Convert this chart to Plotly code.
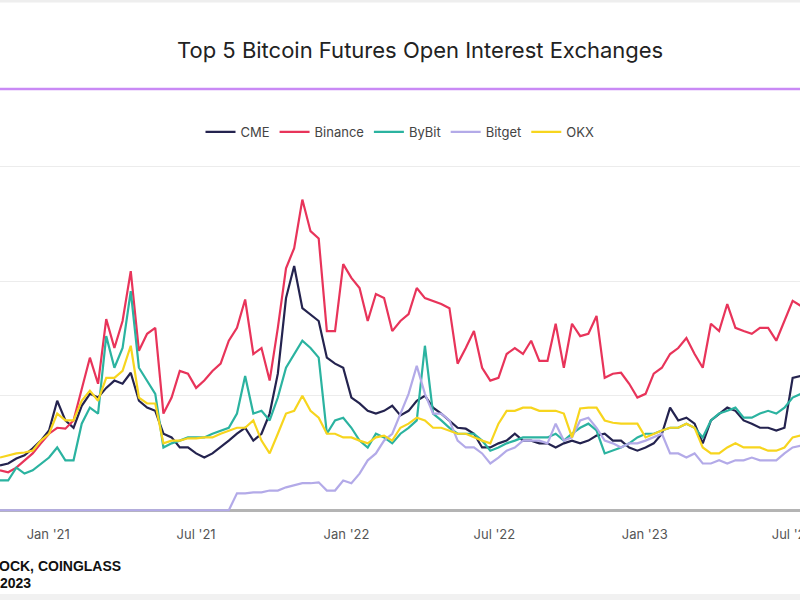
import pandas as pd
import plotly.graph_objects as go

# ---- data (open interest, $ billions, 10-day samples from 2020-11-03) ----
start_date = "2020-11-03"
step_days = 10

cme = [0.98, 1.02, 1.13, 1.20, 1.35, 1.52, 1.74, 2.39, 1.96, 1.80,
       2.28, 2.54, 2.46, 2.67, 2.83, 2.76, 3.00, 2.39, 2.24, 2.17,
       1.67, 1.59, 1.37, 1.37, 1.24, 1.15, 1.24, 1.37, 1.52, 1.67,
       1.80, 1.52, 1.67, 2.11, 2.98, 4.63, 5.33, 4.41, 4.28, 4.13,
       3.33, 3.20, 3.11, 2.46, 2.33, 2.17, 2.11, 2.17, 2.28, 2.07,
       2.17, 2.39, 2.50, 2.24, 2.11, 1.96, 1.80, 1.78, 1.67, 1.37,
       1.37, 1.46, 1.52, 1.67, 1.52, 1.52, 1.46, 1.46, 1.37, 1.46,
       1.52, 1.46, 1.52, 1.63, 1.67, 1.52, 1.52, 1.37, 1.30, 1.37,
       1.46, 1.67, 2.24, 1.96, 2.02, 1.89, 1.46, 1.96, 2.11, 2.24,
       2.17, 1.96, 1.89, 1.80, 1.80, 1.74, 1.80, 2.89, 2.93]

binance = [0.87, 0.83, 0.93, 1.09, 1.24, 1.46, 1.67, 1.80, 1.78, 1.96,
           2.67, 3.33, 2.76, 4.17, 3.54, 4.13, 5.22, 3.48, 3.85, 3.98,
           2.11, 2.46, 3.04, 2.98, 2.67, 2.83, 3.04, 3.20, 3.70, 3.98,
           4.60, 3.41, 3.54, 2.83, 3.98, 5.28, 5.72, 6.78, 6.09, 5.93,
           3.91, 3.91, 5.37, 5.07, 4.85, 4.13, 4.72, 4.63, 3.91, 4.13,
           4.28, 4.85, 4.63, 4.57, 4.50, 4.41, 3.20, 3.54, 3.91, 3.11,
           2.83, 2.89, 3.41, 3.54, 3.41, 3.70, 3.26, 3.26, 4.07, 3.11,
           4.07, 3.80, 3.85, 4.24, 2.89, 2.98, 3.00, 2.76, 2.46, 2.54,
           2.98, 3.11, 3.41, 3.54, 3.76, 3.41, 3.11, 4.07, 3.91, 4.50,
           3.98, 3.91, 3.85, 3.98, 3.98, 3.70, 4.13, 4.57, 4.46]

bybit = [0.65, 0.65, 0.93, 0.80, 0.87, 1.02, 1.15, 1.37, 1.09, 1.09,
         1.89, 2.24, 2.11, 3.80, 3.11, 3.54, 4.78, 3.11, 2.83, 2.54,
         1.37, 1.46, 1.52, 1.59, 1.59, 1.59, 1.67, 1.74, 1.80, 2.11,
         2.93, 2.11, 2.17, 1.96, 2.46, 3.11, 3.41, 3.70, 3.54, 3.33,
         1.67, 1.96, 2.02, 1.80, 1.52, 1.37, 1.67, 1.59, 1.46, 1.67,
         1.80, 1.96, 3.59, 2.11, 1.96, 1.80, 1.67, 1.67, 1.67, 1.52,
         1.30, 1.37, 1.46, 1.52, 1.59, 1.59, 1.59, 1.59, 1.67, 1.52,
         1.67, 1.80, 1.89, 1.74, 1.24, 1.30, 1.37, 1.46, 1.59, 1.67,
         1.67, 1.74, 1.80, 1.80, 1.89, 1.80, 1.59, 1.96, 2.11, 2.17,
         2.24, 2.02, 2.02, 2.11, 2.17, 2.11, 2.24, 2.46, 2.54]

bitget = [0.0] * 29 + [
          0.37, 0.37, 0.39, 0.39, 0.43, 0.43, 0.50, 0.54, 0.59, 0.59,
          0.61, 0.43, 0.43, 0.65, 0.59, 0.80, 1.09, 1.24, 1.52, 1.67,
          2.11, 2.54, 3.15, 2.54, 2.11, 2.11, 1.96, 1.52, 1.37, 1.37,
          1.24, 1.02, 1.15, 1.30, 1.37, 1.52, 1.52, 1.52, 1.46, 1.89,
          1.52, 1.59, 1.96, 2.02, 1.80, 1.52, 1.46, 1.37, 1.46, 1.46,
          1.52, 1.59, 1.67, 1.24, 1.24, 1.15, 1.24, 1.02, 1.02, 1.09,
          1.02, 1.09, 1.09, 1.15, 1.09, 1.09, 1.09, 1.24, 1.37, 1.41]

okx = [1.15, 1.20, 1.24, 1.26, 1.30, 1.52, 1.67, 2.11, 1.96, 1.96,
       2.39, 2.61, 2.39, 2.89, 2.89, 3.04, 3.59, 2.46, 2.33, 2.33,
       1.46, 1.52, 1.52, 1.57, 1.57, 1.59, 1.59, 1.67, 1.74, 1.80,
       1.80, 1.96, 1.52, 1.24, 1.67, 2.11, 2.17, 2.50, 2.17, 2.02,
       1.67, 1.67, 1.59, 1.59, 1.52, 1.46, 1.59, 1.63, 1.52, 1.80,
       1.89, 2.02, 1.96, 1.80, 1.80, 1.74, 1.67, 1.67, 1.59, 1.52,
       1.46, 1.89, 2.17, 2.17, 2.24, 2.24, 2.17, 2.17, 2.17, 2.11,
       1.59, 2.22, 2.24, 2.24, 1.96, 1.91, 1.89, 1.89, 1.89, 1.59,
       1.67, 1.74, 1.80, 1.80, 1.89, 1.80, 1.37, 1.24, 1.24, 1.37,
       1.46, 1.37, 1.37, 1.37, 1.30, 1.30, 1.37, 1.59, 1.63]

tick_dates = ["2021-01-01", "2021-07-01", "2022-01-01", "2022-07-01", "2023-01-01", "2023-07-01"]
tick_labels = ["Jan '21", "Jul '21", "Jan '22", "Jul '22", "Jan '23", "Jul '23"]

title_text = "Top 5 Bitcoin Futures Open Interest Exchanges"
source_line1 = "OCK, COINGLASS"
source_line2 = "2023"

dates = pd.date_range(start_date, periods=len(cme), freq=f"{step_days}D")

series = [
    ("CME", cme, "#24234f"),
    ("Binance", binance, "#e8345a"),
    ("ByBit", bybit, "#2bb3a0"),
    ("Bitget", bitget, "#b3aae8"),
    ("OKX", okx, "#f7d51e"),
]

fig = go.Figure()
for name, vals, color in series:
    fig.add_trace(go.Scatter(
        x=dates, y=vals, name=name, mode="lines",
        line=dict(color=color, width=2.2),
    ))

T, B = 162, 87
H_PLOT = 600 - T - B

fig.update_layout(
    width=800, height=600,
    margin=dict(l=0, r=0, t=T, b=B, autoexpand=False),
    paper_bgcolor="white", plot_bgcolor="white",
    showlegend=True,
    legend=dict(orientation="h", x=0.5, xanchor="center",
                y=1 + 30 / H_PLOT, yanchor="middle",
                font=dict(family="Inter, Lato, sans-serif", size=13, color="#444"),
                itemwidth=30, bgcolor="rgba(0,0,0,0)"),
    xaxis=dict(range=["2020-11-03", "2023-07-10"], showgrid=False,
               tickvals=tick_dates, ticktext=tick_labels,
               ticks="outside", ticklen=9, tickcolor="rgba(0,0,0,0)",
               tickfont=dict(family="Inter, Lato, sans-serif", size=13, color="#555"),
               ticklabeloverflow="allow",
               showline=False, zeroline=False, automargin=False),
    yaxis=dict(range=[-0.06, 7.6], tickvals=[2.5, 5, 7.5], showticklabels=False,
               showgrid=True, gridcolor="#ececec", gridwidth=1,
               zeroline=True, zerolinecolor="#b4b4b4", zerolinewidth=3,
               showline=False, automargin=False),
    hovermode=False,
)

fig.add_annotation(text=title_text, xref="paper", yref="paper",
                   x=420 / 800, y=1 + 112 / H_PLOT, xanchor="center", yanchor="middle",
                   showarrow=False,
                   font=dict(family="Inter, Lato, sans-serif", size=22, color="#222"))

fig.add_annotation(text=source_line1, xref="paper", yref="paper",
                   x=0, xshift=-3, y=-(566 - 513) / H_PLOT, xanchor="left", yanchor="middle",
                   showarrow=False,
                   font=dict(family="Liberation Sans, Arial, sans-serif", size=14, color="#111", weight="bold"))
fig.add_annotation(text=source_line2, xref="paper", yref="paper",
                   x=0, xshift=-2, y=-(583 - 513) / H_PLOT, xanchor="left", yanchor="middle",
                   showarrow=False,
                   font=dict(family="Liberation Sans, Arial, sans-serif", size=14, color="#111", weight="bold"))

# purple divider under title
fig.add_shape(type="line", xref="paper", yref="paper", x0=0, x1=1,
              y0=1 + (T - 89) / H_PLOT, y1=1 + (T - 89) / H_PLOT,
              line=dict(color="#c98af5", width=2.5))
# faint top border
fig.add_shape(type="line", xref="paper", yref="paper", x0=0, x1=1,
              y0=1 + (T - 1) / H_PLOT, y1=1 + (T - 1) / H_PLOT,
              line=dict(color="#eeeeee", width=3))
# faint bottom band
fig.add_shape(type="rect", xref="paper", yref="paper", x0=0, x1=1,
              y0=-(600 - 513) / H_PLOT, y1=-(594 - 513) / H_PLOT,
              fillcolor="#f1f1f1", line=dict(width=0))

fig.write_html(
    "out.html",
    config={"displayModeBar": False, "staticPlot": True},
    post_script="document.body.style.margin='0';document.body.style.overflow='hidden';",
)
